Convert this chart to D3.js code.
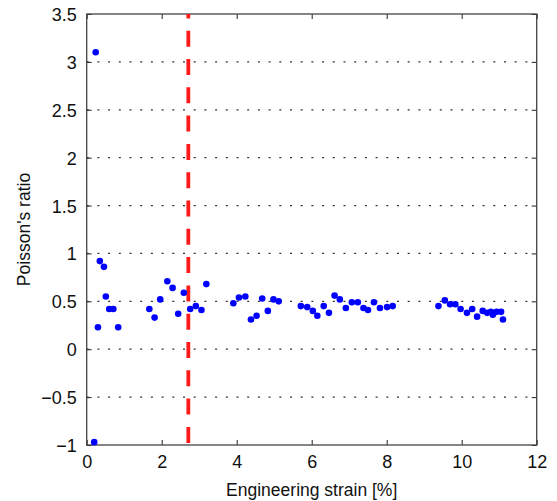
<!DOCTYPE html>
<html><head><meta charset="utf-8">
<script src="https://cdn.jsdelivr.net/npm/d3@7/dist/d3.min.js"></script>
<style>body{margin:0;background:#fff;}svg{display:block;font-family:"Liberation Sans",Arial,sans-serif;}</style>
</head><body>
<svg id="c" width="557" height="501"></svg>
<script>
const strain = [0.20,0.24,0.30,0.35,0.46,0.51,0.60,0.71,0.84,1.67,1.81,1.96,2.15,2.29,2.44,2.59,2.76,2.91,3.06,3.19,3.91,4.06,4.23,4.38,4.53,4.68,4.83,4.98,5.12,5.71,5.88,6.03,6.15,6.32,6.46,6.61,6.75,6.91,7.07,7.23,7.38,7.50,7.66,7.82,8.01,8.16,9.38,9.55,9.69,9.83,9.97,10.14,10.28,10.41,10.56,10.68,10.78,10.83,10.93,11.05,11.10];
const poisson = [-0.97,3.10,0.23,0.92,0.86,0.55,0.42,0.42,0.23,0.42,0.33,0.52,0.71,0.64,0.37,0.59,0.42,0.45,0.41,0.68,0.48,0.54,0.55,0.31,0.35,0.53,0.40,0.52,0.50,0.45,0.44,0.40,0.35,0.45,0.38,0.56,0.52,0.43,0.49,0.49,0.43,0.41,0.49,0.43,0.44,0.45,0.45,0.51,0.47,0.47,0.42,0.38,0.42,0.34,0.40,0.38,0.39,0.36,0.39,0.39,0.31];
const xTicks = [0,2,4,6,8,10,12];
const yTicks = [-1,-0.5,0,0.5,1,1.5,2,2.5,3,3.5];
const gridTicks = [-0.5,0,0.5,1,1.5,2,2.5,3];
const markerStrain = 2.71;
const xLabel = "Engineering strain [%]";
const yLabel = "Poisson's ratio";

const L=86.7, R=536.7, T=14, B=445;
const x = d3.scaleLinear().domain([0,12]).range([L,R]);
const y = d3.scaleLinear().domain([-1,3.5]).range([B,T]);
const svg = d3.select("#c");
const fmt = d => d < 0 ? "\u2212" + Math.abs(d) : String(d);

// grid
svg.append("g").selectAll("line").data(gridTicks).join("line")
  .attr("x1",L).attr("x2",R).attr("y1",d=>y(d)).attr("y2",d=>y(d))
  .attr("stroke","#333").attr("stroke-width",1.2).attr("stroke-dasharray","2,8.7");

// axes
const tk = 5;
const gb = svg.append("g").attr("transform",`translate(0,${B})`)
  .call(d3.axisBottom(x).tickValues(xTicks).tickSize(-tk).tickPadding(9).tickFormat(fmt));
const gt = svg.append("g").attr("transform",`translate(0,${T})`)
  .call(d3.axisTop(x).tickValues(xTicks).tickSize(-tk).tickFormat(""));
const gl = svg.append("g").attr("transform",`translate(${L},0)`)
  .call(d3.axisLeft(y).tickValues(yTicks).tickSize(-tk).tickPadding(10).tickFormat(fmt));
const gr = svg.append("g").attr("transform",`translate(${R},0)`)
  .call(d3.axisRight(y).tickValues(yTicks).tickSize(-tk).tickFormat(""));
[gb,gt,gl,gr].forEach(g=>{
  g.select(".domain").remove();
  g.selectAll(".tick line").attr("stroke","#222").attr("stroke-width",1);
  g.selectAll("text").attr("fill","#111").style("font-size","18px").style("font-family",'"Liberation Sans",Arial,sans-serif');
});
gb.selectAll("text").attr("dy","0.75em");
gl.selectAll("text").attr("dy","0.36em");

svg.append("rect").attr("x",L).attr("y",T).attr("width",R-L).attr("height",B-T)
  .attr("fill","none").attr("stroke","#444").attr("stroke-width",1.3);

// marker line
svg.append("line").attr("x1",x(markerStrain)).attr("x2",x(markerStrain))
  .attr("y1",y(3.5)).attr("y2",y(-1))
  .attr("stroke","#ff1a1a").attr("stroke-width",3.8)
  .attr("stroke-dasharray","16,12.3").attr("stroke-dashoffset",11.6);

// points
svg.append("g").selectAll("circle").data(strain.map((s,i)=>[s,poisson[i]])).join("circle")
  .attr("cx",d=>x(d[0])).attr("cy",d=>y(d[1])).attr("r",3.3).attr("fill","#0000ff");

// labels
svg.append("text").attr("x",(L+R)/2).attr("y",496).attr("text-anchor","middle")
  .style("font-size","17.5px").attr("fill","#111").text(xLabel);
svg.append("text").attr("transform",`translate(30,${(T+B)/2}) rotate(-90)`).attr("text-anchor","middle")
  .style("font-size","17.5px").attr("fill","#111").text(yLabel);
</script>
</body></html>
